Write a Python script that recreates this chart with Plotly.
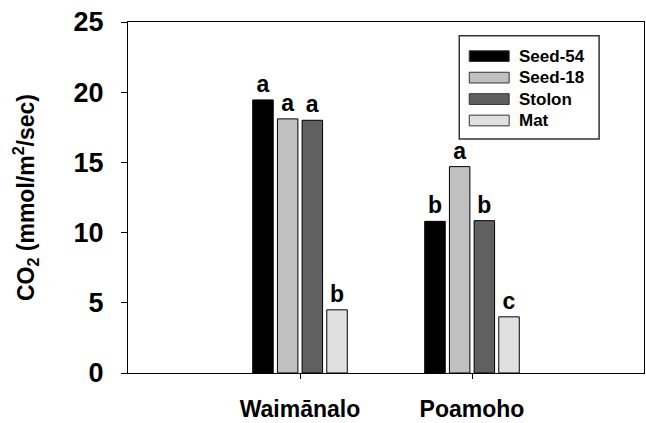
import plotly.graph_objects as go

sites = ["Waimānalo", "Poamoho"]
series_names = ["Seed-54", "Seed-18", "Stolon", "Mat"]
seed54 = [19.45, 10.8]
seed18 = [18.1, 14.7]
stolon = [18.0, 10.85]
mat = [4.5, 4.0]
letters_seed54 = ["a", "b"]
letters_seed18 = ["a", "a"]
letters_stolon = ["a", "b"]
letters_mat = ["b", "c"]
y_ticks = [0, 5, 10, 15, 20, 25]

values = [seed54, seed18, stolon, mat]
letters = [letters_seed54, letters_seed18, letters_stolon, letters_mat]
colors = ["#000000", "#c0c0c0", "#606060", "#e0e0e0"]

FONT = "Liberation Sans, Arial, sans-serif"

fig = go.Figure()
for name, vals, lets, col in zip(series_names, values, letters, colors):
    fig.add_trace(go.Bar(
        x=sites, y=vals, name=name,
        marker=dict(color=col, line=dict(color="#000000", width=1)),
        text=lets, textposition="outside", constraintext="none",
        textfont=dict(family=FONT, size=23, color="#000000", weight="bold"),
        cliponaxis=False, showlegend=False,
    ))

# custom legend (wide swatches)
lx0, lx1, ly1, ly0 = 0.642, 0.913, 0.961, 0.667
fig.add_shape(type="rect", xref="paper", yref="paper", x0=lx0, x1=lx1, y0=ly0, y1=ly1,
              line=dict(color="#333333", width=1.5), fillcolor="white", layer="above")
row_h = 22 / 360
first_y = ly1 - 21 / 360
for i, (name, col) in enumerate(zip(series_names, colors)):
    yc = first_y - i * row_h
    fig.add_shape(type="rect", xref="paper", yref="paper",
                  x0=lx0 + 10 / 517, x1=lx0 + 50 / 517,
                  y0=yc - 5.5 / 360, y1=yc + 5.5 / 360,
                  fillcolor=col, line=dict(color="#333333", width=1), layer="above")
    fig.add_annotation(xref="paper", yref="paper", x=lx0 + 58 / 517, y=yc,
                       text=name, showarrow=False, xanchor="left", yanchor="middle",
                       font=dict(family=FONT, size=17, color="#000000", weight="bold"))

fig.update_layout(
    width=646, height=423,
    margin=dict(l=128, r=1, t=22, b=41),
    paper_bgcolor="white", plot_bgcolor="white",
    barmode="group", bargap=0.426, bargroupgap=0.17,
    font=dict(family=FONT, color="#000000"),
    xaxis=dict(
        type="category", range=[-1, 2],
        showline=True, linecolor="#000000", linewidth=1, mirror=True,
        ticks="outside", ticklen=5, tickcolor="#000000",
        tickfont=dict(family=FONT, size=23, weight="bold"),
        ticklabelstandoff=10, showgrid=False, zeroline=False,
    ),
    yaxis=dict(
        range=[0, 25], tickvals=y_ticks,
        showline=True, linecolor="#000000", linewidth=1, mirror=True,
        ticks="outside", ticklen=6, tickcolor="#000000",
        tickfont=dict(family=FONT, size=27, weight="bold"),
        ticklabelstandoff=12, showgrid=False, zeroline=False,
        title=dict(text="CO<sub>2</sub> (mmol/m<sup>2</sup>/sec)",
                   font=dict(family=FONT, size=23, weight="bold"), standoff=32),
    ),
)

fig.write_html("out.html")
